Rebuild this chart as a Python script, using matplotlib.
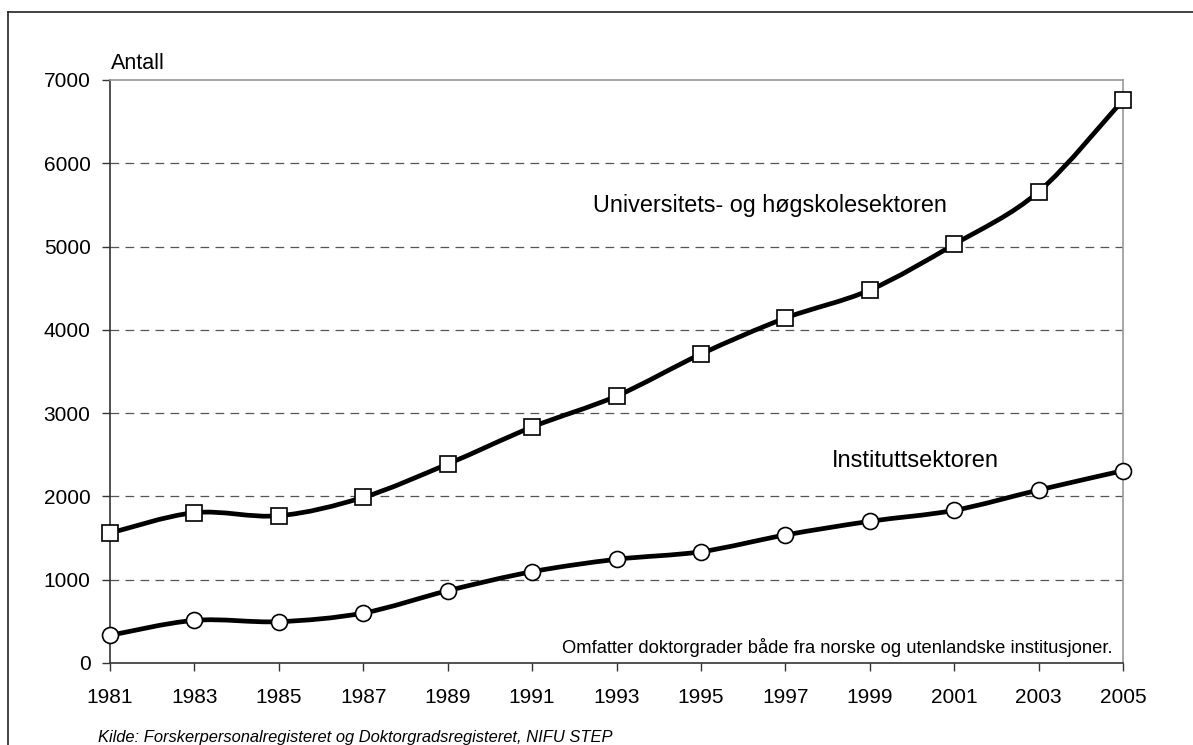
import matplotlib
matplotlib.use("Agg")
import matplotlib.pyplot as plt
from matplotlib.path import Path
from matplotlib.patches import PathPatch
from matplotlib.lines import Line2D

plt.rcParams['font.family'] = ['Liberation Sans', 'DejaVu Sans']

years = [1981, 1983, 1985, 1987, 1989, 1991, 1993, 1995, 1997, 1999, 2001, 2003, 2005]
uh_sektor = [1560, 1805, 1768, 1989, 2389, 2833, 3205, 3709, 4141, 4478, 5026, 5658, 6759]
inst_sektor = [332, 512, 496, 600, 868, 1096, 1245, 1336, 1537, 1701, 1833, 2077, 2309]
yticks = [0, 1000, 2000, 3000, 4000, 5000, 6000, 7000]


def smooth_path(xs, ys):
    # excel-style smoothed line: bezier segments, catmull-rom control points
    pts = list(zip(xs, ys))
    verts = [pts[0]]
    codes = [Path.MOVETO]
    n = len(pts)
    for i in range(n - 1):
        p0 = pts[max(i - 1, 0)]
        p1 = pts[i]
        p2 = pts[i + 1]
        p3 = pts[min(i + 2, n - 1)]
        c1 = (p1[0] + (p2[0] - p0[0]) / 6.0, p1[1] + (p2[1] - p0[1]) / 6.0)
        c2 = (p2[0] - (p3[0] - p1[0]) / 6.0, p2[1] - (p3[1] - p1[1]) / 6.0)
        verts += [c1, c2, p2]
        codes += [Path.CURVE4, Path.CURVE4, Path.CURVE4]
    return Path(verts, codes)


fig = plt.figure(figsize=(11.93, 7.45), dpi=100)
ax = fig.add_axes([110 / 1193, 1 - 663 / 745, (1123 - 110) / 1193, (663 - 80) / 745])

# outer frame (top + left only, rest is cut off)
fig.add_artist(Line2D([8 / 1193, 8 / 1193], [0, 1 - 12 / 745], transform=fig.transFigure,
                      color='#222222', lw=1.2))
fig.add_artist(Line2D([8 / 1193, 1], [1 - 12 / 745, 1 - 12 / 745], transform=fig.transFigure,
                      color='#222222', lw=1.2))

for yv in yticks[1:-1]:
    ax.axhline(yv, color='#555555', lw=0.9, dashes=(7, 5), zorder=1)

for ys, marker, ms in [(uh_sektor, 's', 11), (inst_sektor, 'o', 11.5)]:
    ax.add_patch(PathPatch(smooth_path(years, ys), facecolor='none', edgecolor='black',
                           lw=3.4, zorder=3, capstyle='round', joinstyle='round'))
    ax.plot(years, ys, linestyle='none', marker=marker, markersize=ms, markerfacecolor='white',
            markeredgecolor='black', markeredgewidth=1.2, zorder=4, clip_on=False)

ax.set_xlim(1981, 2005)
ax.set_ylim(0, 7000)
ax.set_xticks(years)
ax.set_yticks(yticks)
ax.tick_params(axis='both', direction='out', length=6, width=1, color='#333333',
               labelsize=15)
ax.tick_params(axis='x', pad=12)
ax.tick_params(axis='y', pad=8)

for s in ['top', 'right']:
    ax.spines[s].set_color('#999999')
    ax.spines[s].set_linewidth(1.2)
for s in ['left', 'bottom']:
    ax.spines[s].set_color('#333333')
    ax.spines[s].set_linewidth(1.2)

fig.text(111 / 1193, 1 - 69 / 745, 'Antall', fontsize=15.5, ha='left', va='baseline')
fig.text(593 / 1193, 1 - 212 / 745, 'Universitets- og høgskolesektoren', fontsize=16.8,
         ha='left', va='baseline')
fig.text(832 / 1193, 1 - 467 / 745, 'Instituttsektoren', fontsize=17, ha='left', va='baseline')
fig.text(1112 / 1193, 1 - 653 / 745,
         'Omfatter doktorgrader både fra norske og utenlandske institusjoner.',
         fontsize=13.2, ha='right', va='baseline')
fig.text(98 / 1193, 1 - 742 / 745,
         'Kilde: Forskerpersonalregisteret og Doktorgradsregisteret, NIFU STEP',
         fontsize=11.9, style='italic', ha='left', va='baseline')

fig.savefig('out.png', dpi=100)
